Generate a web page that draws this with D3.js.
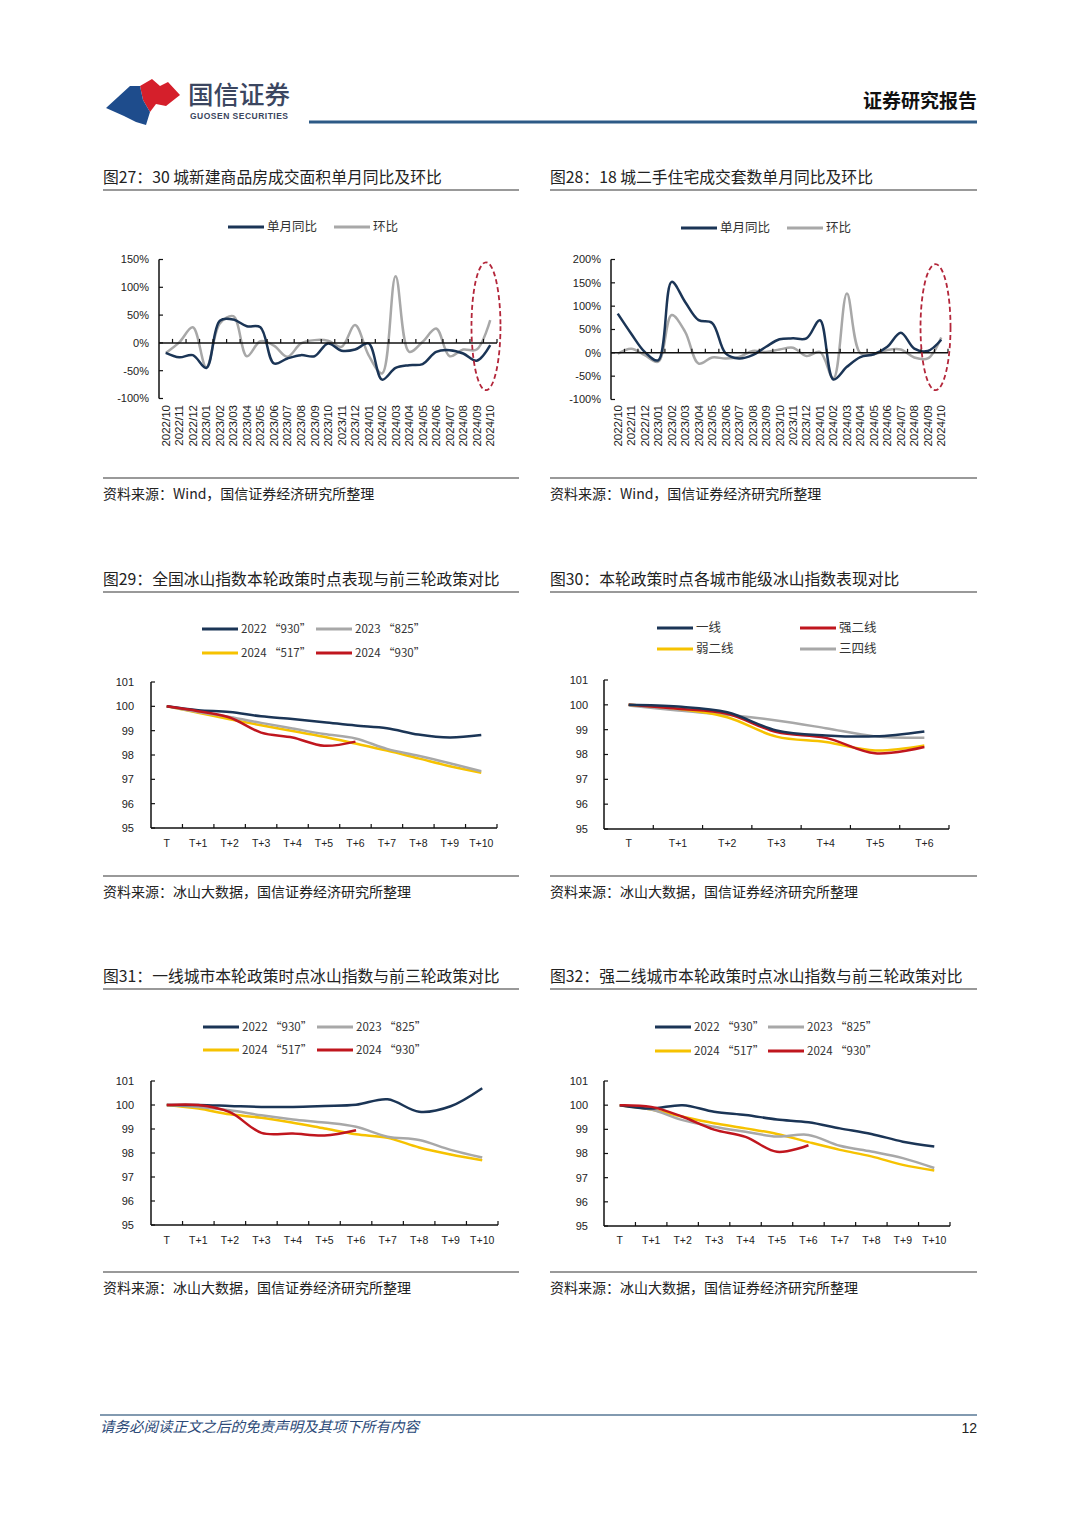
<!DOCTYPE html>
<html>
<head>
<meta charset="utf-8">
<script src="https://cdn.jsdelivr.net/npm/d3@7"></script>
<style>
  body { margin: 0; background: #fff; }
  svg { display: block; }
  text { font-family: "Liberation Sans", "Noto Sans CJK SC", sans-serif; }
</style>
</head>
<body>
<script>
// ---- data ----
const months = ["2022/10","2022/11","2022/12","2023/01","2023/02","2023/03","2023/04","2023/05",
  "2023/06","2023/07","2023/08","2023/09","2023/10","2023/11","2023/12","2024/01","2024/02",
  "2024/03","2024/04","2024/05","2024/06","2024/07","2024/08","2024/09","2024/10"];

// 图27 30城新建商品房 (%)
const yoy27 = [-18,-26,-22,-45,40,42,30,28,-37,-28,-22,-24,-1,-14,-12,-1,-66,-45,-40,-38,-16,-13,-19,-32,-4];
const mom27 = [-18,1,28,-44,35,48,-24,3,-5,-25,-1,5,4,-7,32,-22,-55,120,-16,2,26,-24,-12,-12,41];

// 图28 18城二手住宅 (%)
const yoy28 = [84,41,2,-16,152,109,70,64,-1,-12,-5,13,29,31,31,70,-57,-30,-9,-3,13,43,9,4,28];
const mom28 = [-2,9,-5,-19,81,45,-23,-10,-12,-9,4,2,7,11,-7,2,-55,127,-1,-3,6,7,-10,-12,33];

const tLabels11 = ["T","T+1","T+2","T+3","T+4","T+5","T+6","T+7","T+8","T+9","T+10"];
const tLabels7 = ["T","T+1","T+2","T+3","T+4","T+5","T+6"];
const roundNames = ["2022 “930”","2023 “825”","2024 “517”","2024 “930”"];
const tierNames = ["一线","强二线","弱二线","三四线"];

// 图29 全国冰山指数
const nat2022 = [100,99.84,99.77,99.59,99.48,99.35,99.21,99.10,98.84,98.72,98.82];
const nat2023 = [100,99.77,99.56,99.32,99.09,98.86,98.68,98.25,97.97,97.66,97.33];
const nat2024a = [100,99.74,99.47,99.22,98.99,98.75,98.47,98.18,97.86,97.54,97.27];
const nat2024b = [100,99.80,99.54,98.92,98.72,98.38,98.55,null,null,null,null];

// 图30 各城市能级
const tier1 = [100,99.93,99.70,98.97,98.77,98.73,98.93];
const tier2s = [100,99.84,99.64,98.90,98.67,98.05,98.30];
const tier2w = [100,99.84,99.50,98.72,98.50,98.16,98.36];
const tier34 = [99.97,99.77,99.60,99.37,99.06,98.73,98.67];

// 图31 一线城市
const t1_2022 = [100,100.0,99.96,99.92,99.92,99.96,100.01,100.24,99.72,99.95,100.70];
const t1_2023 = [100,99.92,99.78,99.57,99.40,99.27,99.09,98.68,98.54,98.13,97.81];
const t1_2024a = [100,99.85,99.61,99.47,99.26,99.02,98.78,98.63,98.23,97.94,97.70];
const t1_2024b = [100,100.0,99.70,98.84,98.81,98.73,98.95,null,null,null,null];

// 图32 强二线城市
const t2_2022 = [100,99.86,100.0,99.73,99.59,99.41,99.29,99.04,98.81,98.49,98.29];
const t2_2023 = [100,99.82,99.38,99.11,98.90,98.70,98.77,98.32,98.08,97.81,97.40];
const t2_2024a = [100,99.82,99.52,99.25,99.04,98.81,98.47,98.15,97.88,97.53,97.30];
const t2_2024b = [100,99.93,99.52,98.99,98.69,98.07,98.34,null,null,null,null];

const navy = "#1b3556", grey = "#a8a8a8", gold = "#f6c200", red = "#c0161e";

const svg = d3.select("body").append("svg")
  .attr("width", 1080).attr("height", 1528);

/* ---- page header ---- */
const logo = svg.append("g");
logo.append("path")
  .attr("d", "M140,86 L152,79 L160,86 L168,82 L180,95 L166,106 L156,104 L150,112 L143,100 Z")
  .attr("fill", "#d51f2b");
logo.append("path")
  .attr("d", "M106,108 L130,86 L140,86 L143,100 L150,112 L146,125 L136,122 L124,116 Z")
  .attr("fill", "#1e4c8c");
svg.append("text").attr("x", 188).attr("y", 104)
  .style("font-family", "Noto Sans CJK SC").style("font-size", "25.5px").style("font-weight", 500)
  .attr("fill", "#3b4660").text("国信证券");
svg.append("text").attr("x", 190).attr("y", 119)
  .style("font-size", "8.5px").style("font-weight", "bold").attr("fill", "#3b4660")
  .attr("textLength", 98).text("GUOSEN SECURITIES");
svg.append("text").attr("x", 977).attr("y", 108).attr("text-anchor", "end")
  .style("font-family", "Noto Sans CJK SC").style("font-size", "19px").style("font-weight", "bold")
  .attr("fill", "#111").text("证券研究报告");
svg.append("line").attr("x1", 309).attr("x2", 977).attr("y1", 122).attr("y2", 122)
  .attr("stroke", "#2d5a86").attr("stroke-width", 3);

/* ---- footer ---- */
svg.append("line").attr("x1", 100).attr("x2", 977).attr("y1", 1415).attr("y2", 1415)
  .attr("stroke", "#587896").attr("stroke-width", 1.5);
svg.append("text").attr("x", 100).attr("y", 1432)
  .style("font-family", "Noto Sans CJK SC").style("font-size", "14.5px").style("font-style", "italic")
  .attr("fill", "#2c4a78").text("请务必阅读正文之后的免责声明及其项下所有内容");
svg.append("text").attr("x", 977).attr("y", 1433).attr("text-anchor", "end")
  .style("font-size", "14px").attr("fill", "#222").text("12");

/* ---- panel frame: title, rules, source ---- */
const panelFrame = (x0, x1, titleY, srcY, title, source) => {
  svg.append("text").attr("x", x0).attr("y", titleY)
    .style("font-family", "Noto Sans CJK SC").style("font-size", "15.8px")
    .attr("fill", "#222").text(title);
  svg.append("line").attr("x1", x0).attr("x2", x1).attr("y1", titleY + 7).attr("y2", titleY + 7)
    .attr("stroke", "#777").attr("stroke-width", 1.5);
  svg.append("line").attr("x1", x0).attr("x2", x1).attr("y1", srcY).attr("y2", srcY)
    .attr("stroke", "#777").attr("stroke-width", 1.5);
  svg.append("text").attr("x", x0).attr("y", srcY + 21)
    .style("font-family", "Noto Sans CJK SC").style("font-size", "14px")
    .attr("fill", "#222").text(source);
};

/* ---- legend ---- */
const legend = (items, size = 12.5) => {
  items.forEach(it => {
    svg.append("line").attr("x1", it.x).attr("x2", it.x + 36).attr("y1", it.y).attr("y2", it.y)
      .attr("stroke", it.color).attr("stroke-width", 3);
    svg.append("text").attr("x", it.x + 39).attr("y", it.y).attr("dy", "0.35em")
      .style("font-family", "Noto Sans CJK SC").style("font-size", size + "px")
      .attr("fill", "#333").text(it.name);
  });
};

/* ---- generic smooth line chart ---- */
const lineChart = (o) => {
  const g = svg.append("g");
  const x = d3.scaleBand().domain(o.cats).range([o.x0, o.x1]).padding(0);
  const y = d3.scaleLinear().domain(o.domain).range([o.yBottom, o.yTop]);
  const cx = d => x(d) + x.bandwidth() / 2;

  // y axis with inward ticks
  g.append("line").attr("x1", o.x0).attr("x2", o.x0).attr("y1", o.yTop).attr("y2", o.yBottom)
    .attr("stroke", "#111").attr("stroke-width", 1.5);
  o.ticks.forEach(t => {
    g.append("line").attr("x1", o.x0).attr("x2", o.x0 + 4).attr("y1", y(t)).attr("y2", y(t))
      .attr("stroke", "#111").attr("stroke-width", 1.2);
    g.append("text").attr("x", o.labelX).attr("y", y(t)).attr("dy", "0.35em")
      .attr("text-anchor", "end").style("font-size", "11px").attr("fill", "#222")
      .text(o.fmt(t));
  });

  // series
  const line = d3.line()
    .defined(d => d[1] != null)
    .curve(d3.curveCatmullRom.alpha(0.5))
    .x(d => cx(d[0])).y(d => y(d[1]));
  o.series.forEach(s => {
    g.append("path")
      .attr("d", line(o.cats.map((c, i) => [c, s.values[i]])))
      .attr("fill", "none").attr("stroke", s.color).attr("stroke-width", 2.5)
      .attr("stroke-linejoin", "round");
  });

  // x axis line at base value with upward ticks at band edges
  const ax = y(o.axisAt);
  g.append("line").attr("x1", o.x0).attr("x2", o.x1).attr("y1", ax).attr("y2", ax)
    .attr("stroke", "#111").attr("stroke-width", 1.5);
  o.cats.forEach((c, i) => {
    const xe = x(c) + x.bandwidth();
    g.append("line").attr("x1", xe).attr("x2", xe).attr("y1", ax).attr("y2", ax - 4)
      .attr("stroke", "#111").attr("stroke-width", 1.2);
  });

  // category labels
  if (o.rotate) {
    o.cats.forEach(c => {
      g.append("text")
        .attr("transform", `translate(${cx(c)},${o.labelY}) rotate(-90)`)
        .attr("text-anchor", "end").attr("dy", "0.35em")
        .style("font-size", "11.5px").attr("fill", "#222").text(c);
    });
  } else {
    o.cats.forEach(c => {
      g.append("text").attr("x", cx(c)).attr("y", o.labelY)
        .attr("text-anchor", "middle").style("font-size", "10.5px").attr("fill", "#222").text(c);
    });
  }
  return {x, y, g};
};

const pctFmt = d => d + "%";
const intFmt = d => d;

/* 图27 */
panelFrame(103, 519, 183, 478, "图27：30 城新建商品房成交面积单月同比及环比", "资料来源：Wind，国信证券经济研究所整理");
legend([{x: 228, y: 227, color: navy, name: "单月同比"}, {x: 334, y: 227, color: grey, name: "环比"}]);
const c27 = lineChart({
  cats: months, x0: 159, x1: 497, yTop: 259.5, yBottom: 398.5,
  domain: [-100, 150], ticks: [-100, -50, 0, 50, 100, 150], fmt: pctFmt, labelX: 149,
  axisAt: 0, rotate: true, labelY: 405,
  series: [{values: mom27, color: grey}, {values: yoy27, color: navy}]
});
c27.g.append("ellipse")
  .attr("cx", c27.x(months[24]) + 2.5).attr("cy", (c27.y(145) + c27.y(-85)) / 2)
  .attr("rx", 14.5).attr("ry", (c27.y(-85) - c27.y(145)) / 2)
  .attr("fill", "none").attr("stroke", "#b3263a").attr("stroke-width", 1.8)
  .attr("stroke-dasharray", "5,3");

/* 图28 */
panelFrame(550, 977, 183, 478, "图28：18 城二手住宅成交套数单月同比及环比", "资料来源：Wind，国信证券经济研究所整理");
legend([{x: 681, y: 228, color: navy, name: "单月同比"}, {x: 787, y: 228, color: grey, name: "环比"}]);
const c28 = lineChart({
  cats: months, x0: 611, x1: 948, yTop: 259.5, yBottom: 399.5,
  domain: [-100, 200], ticks: [-100, -50, 0, 50, 100, 150, 200], fmt: pctFmt, labelX: 601,
  axisAt: 0, rotate: true, labelY: 405,
  series: [{values: mom28, color: grey}, {values: yoy28, color: navy}]
});
c28.g.append("ellipse")
  .attr("cx", c28.x(months[24]) + 1).attr("cy", (c28.y(190) + c28.y(-80)) / 2)
  .attr("rx", 15).attr("ry", (c28.y(-80) - c28.y(190)) / 2)
  .attr("fill", "none").attr("stroke", "#b3263a").attr("stroke-width", 1.8)
  .attr("stroke-dasharray", "5,3");

/* 图29 */
panelFrame(103, 519, 585, 876, "图29：全国冰山指数本轮政策时点表现与前三轮政策对比", "资料来源：冰山大数据，国信证券经济研究所整理");
legend([
  {x: 202, y: 629, color: navy, name: roundNames[0]}, {x: 316, y: 629, color: grey, name: roundNames[1]},
  {x: 202, y: 653, color: gold, name: roundNames[2]}, {x: 316, y: 653, color: red, name: roundNames[3]}
], 11.5);
lineChart({
  cats: tLabels11, x0: 151, x1: 497, yTop: 682, yBottom: 828,
  domain: [95, 101], ticks: [95, 96, 97, 98, 99, 100, 101], fmt: intFmt, labelX: 134,
  axisAt: 95, rotate: false, labelY: 847,
  series: [{values: nat2024a, color: gold}, {values: nat2023, color: grey},
           {values: nat2022, color: navy}, {values: nat2024b, color: red}]
});

/* 图30 */
panelFrame(550, 977, 585, 876, "图30：本轮政策时点各城市能级冰山指数表现对比", "资料来源：冰山大数据，国信证券经济研究所整理");
legend([
  {x: 657, y: 628, color: navy, name: tierNames[0]}, {x: 800, y: 628, color: red, name: tierNames[1]},
  {x: 657, y: 649, color: gold, name: tierNames[2]}, {x: 800, y: 649, color: grey, name: tierNames[3]}
]);
lineChart({
  cats: tLabels7, x0: 604, x1: 949, yTop: 680, yBottom: 829,
  domain: [95, 101], ticks: [95, 96, 97, 98, 99, 100, 101], fmt: intFmt, labelX: 588,
  axisAt: 95, rotate: false, labelY: 847,
  series: [{values: tier34, color: grey}, {values: tier2w, color: gold},
           {values: tier2s, color: red}, {values: tier1, color: navy}]
});

/* 图31 */
panelFrame(103, 519, 982, 1272, "图31：一线城市本轮政策时点冰山指数与前三轮政策对比", "资料来源：冰山大数据，国信证券经济研究所整理");
legend([
  {x: 203, y: 1027, color: navy, name: roundNames[0]}, {x: 317, y: 1027, color: grey, name: roundNames[1]},
  {x: 203, y: 1050, color: gold, name: roundNames[2]}, {x: 317, y: 1050, color: red, name: roundNames[3]}
], 11.5);
lineChart({
  cats: tLabels11, x0: 151, x1: 498, yTop: 1081, yBottom: 1225,
  domain: [95, 101], ticks: [95, 96, 97, 98, 99, 100, 101], fmt: intFmt, labelX: 134,
  axisAt: 95, rotate: false, labelY: 1244,
  series: [{values: t1_2024a, color: gold}, {values: t1_2023, color: grey},
           {values: t1_2022, color: navy}, {values: t1_2024b, color: red}]
});

/* 图32 */
panelFrame(550, 977, 982, 1272, "图32：强二线城市本轮政策时点冰山指数与前三轮政策对比", "资料来源：冰山大数据，国信证券经济研究所整理");
legend([
  {x: 655, y: 1027, color: navy, name: roundNames[0]}, {x: 768, y: 1027, color: grey, name: roundNames[1]},
  {x: 655, y: 1051, color: gold, name: roundNames[2]}, {x: 768, y: 1051, color: red, name: roundNames[3]}
], 11.5);
lineChart({
  cats: tLabels11, x0: 604, x1: 950, yTop: 1081, yBottom: 1226,
  domain: [95, 101], ticks: [95, 96, 97, 98, 99, 100, 101], fmt: intFmt, labelX: 588,
  axisAt: 95, rotate: false, labelY: 1244,
  series: [{values: t2_2024a, color: gold}, {values: t2_2023, color: grey},
           {values: t2_2022, color: navy}, {values: t2_2024b, color: red}]
});
</script>
</body>
</html>
